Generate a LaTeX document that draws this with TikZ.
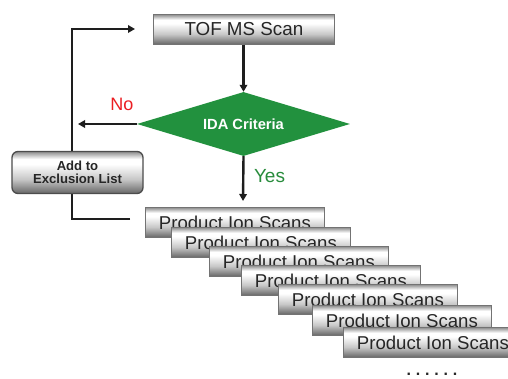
\documentclass[tikz,border=0pt]{standalone}
\usepackage{fontspec}
\setmainfont{Liberation Sans}
\usetikzlibrary{shapes.geometric,arrows.meta}
\definecolor{idagreen}{RGB}{34,145,62}
\definecolor{yesgreen}{RGB}{40,140,60}
\definecolor{nored}{RGB}{235,30,35}
\definecolor{linecol}{RGB}{30,30,30}
\pgfdeclareverticalshading{grayboxshade}{100bp}{color(0bp)=(black!60); color(25bp)=(black!60); color(42bp)=(black!22); color(60bp)=(white); color(66bp)=(white); color(75bp)=(black!45); color(100bp)=(black!45)}
\tikzset{
  scanbox/.style={draw=black!55, line width=0.8pt, shading=grayboxshade, minimum width=179pt, minimum height=30pt, inner sep=0pt, anchor=north west, text=black!85, font=\fontsize{18.6}{20}\selectfont},
  conn/.style={draw=linecol, line width=2.4pt},
  arr/.style={conn, -{Triangle[length=7pt,width=7.5pt]}},
}
\newcommand{\dotk}{.\kern4.8pt}
\begin{document}
\begin{tikzpicture}[x=1pt,y=-1pt]
\useasboundingbox (0,0) rectangle (508,379);
\fill[white] (0,0) rectangle (508,379);

% loop line (drawn first, behind the exclusion box)
\coordinate (loopstart) at (130,219);
\coordinate (loopend) at (135,29);
\coordinate (noend) at (78,124);
\coordinate (yesend) at (243,201);

\draw[arr] (loopstart) -- (72,219) -- (72,29) -- (loopend);

% TOF MS Scan
\node[scanbox, minimum width=181pt, font=\fontsize{18.8}{20}\selectfont] (tof) at (153,14) {TOF MS Scan};

% diamond
\node[diamond, aspect=3.3, minimum width=213pt, minimum height=64pt, inner sep=0pt, fill=idagreen, text=white, font=\bfseries\fontsize{14.7}{16}\selectfont] (ida) at (243.5,124) {IDA Criteria};

\draw[arr] (tof.south -| ida.north) -- (ida.north);
\draw[arr] (ida.west) -- (noend);
\draw[arr] (ida.south) -- (yesend);

\node[text=nored, font=\fontsize{18}{20}\selectfont] (no) at (122,104) {No};
\node[text=yesgreen, font=\fontsize{19}{20}\selectfont] (yes) at (269.5,176) {Yes};

% exclusion list
\node[draw=black!70, line width=1.3pt, rounded corners=6pt, shading=grayboxshade, minimum width=131pt, minimum height=42pt, inner sep=0pt, align=center, font=\bfseries\fontsize{13.1}{13}\selectfont, text=black!85] (excl) at (77.5,172.5) {Add to\\Exclusion List};

% product ion scans
\begin{scope}
\clip (0,0) rectangle (508,379);
\node[scanbox] (p1) at (145,207) {Product Ion Scans};
\node[scanbox] (p2) at (171,227) {Product Ion Scans};
\node[scanbox] (p3) at (209,246) {Product Ion Scans};
\node[scanbox] (p4) at (241,265) {Product Ion Scans};
\node[scanbox] (p5) at (278,284) {Product Ion Scans};
\node[scanbox] (p6) at (312,305) {Product Ion Scans};
\node[scanbox] (p7) at (343,327) {Product Ion Scans};
\end{scope}

\node[anchor=base, inner sep=0pt, font=\bfseries\fontsize{16}{18}\selectfont, text=black!85] (dots) at (432,375) {\dotk\dotk\dotk\dotk\dotk.};
\end{tikzpicture}
\end{document}
